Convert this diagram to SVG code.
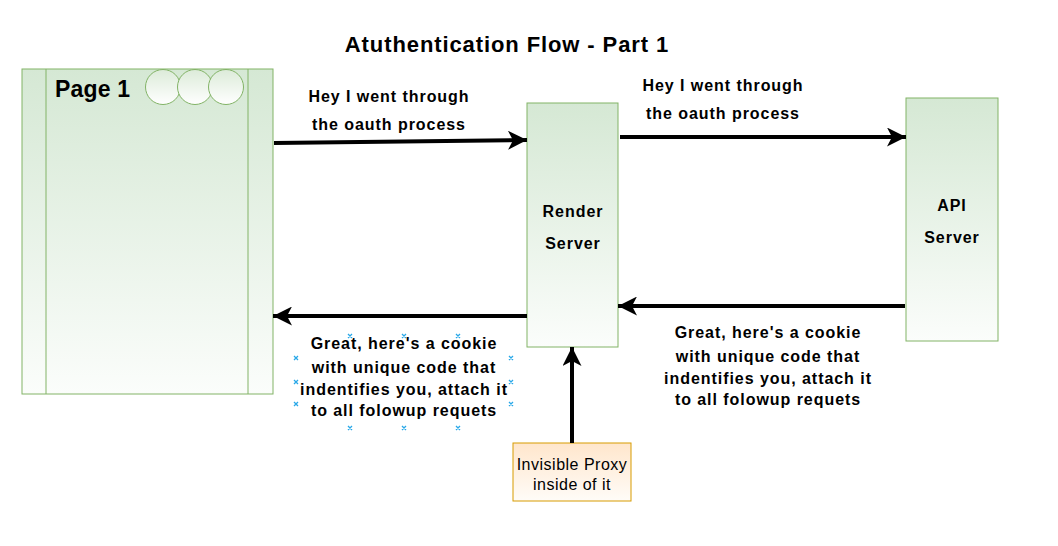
<svg xmlns="http://www.w3.org/2000/svg" width="1058" height="546" viewBox="0 0 1058 546">
<defs>
<linearGradient id="g" x1="0" y1="0" x2="0" y2="1"><stop offset="0" stop-color="#d5e8d4"/><stop offset="1" stop-color="#fbfdfb"/></linearGradient>
<linearGradient id="gc" x1="0" y1="0" x2="0" y2="1"><stop offset="0" stop-color="#dcebd9"/><stop offset="1" stop-color="#ffffff"/></linearGradient>
<linearGradient id="go" x1="0" y1="0" x2="0" y2="1"><stop offset="0" stop-color="#ffe6cc"/><stop offset="1" stop-color="#fffcf8"/></linearGradient>
<marker id="ah" viewBox="0 0 19 19" refX="19" refY="9.5" markerWidth="19" markerHeight="19" markerUnits="userSpaceOnUse" orient="auto">
<path d="M0,0 L19,9.5 L0,19 L5,9.5 Z" fill="#000"/>
</marker>
<style>
.box{fill:url(#g);stroke:#82b366;stroke-width:1}
.t{font-family:"Liberation Sans",Arial,sans-serif;font-weight:bold;font-size:16px;letter-spacing:0.95px;fill:#000;text-anchor:middle}
.c{fill:none;stroke:#000;stroke-width:4;marker-end:url(#ah)}
.x{stroke:#29a8e8;stroke-width:1.3}
</style>
</defs>
<rect width="1058" height="546" fill="#fff"/>
<text x="507" y="52" class="t" style="font-size:22px;letter-spacing:0.9px">Atuthentication Flow - Part 1</text>
<g id="page1">
<rect x="22" y="69" width="251" height="325" class="box"/>
<line x1="46" y1="69" x2="46" y2="394" stroke="#82b366"/>
<line x1="248" y1="69" x2="248" y2="394" stroke="#82b366"/>
<circle cx="163" cy="87" r="17.5" fill="url(#gc)" stroke="#82b366"/>
<circle cx="195" cy="87" r="17.5" fill="url(#gc)" stroke="#82b366"/>
<circle cx="226" cy="87" r="17.5" fill="url(#gc)" stroke="#82b366"/>
<text x="55" y="97" class="t" style="font-size:23px;letter-spacing:0.2px;text-anchor:start">Page 1</text>
</g>
<g id="render">
<rect x="527" y="103" width="91" height="244" class="box"/>
<text x="573" y="217" class="t">Render</text>
<text x="573" y="249" class="t">Server</text>
</g>
<g id="api">
<rect x="906" y="98" width="92" height="243" class="box"/>
<text x="952" y="211" class="t">API</text>
<text x="952" y="243" class="t">Server</text>
</g>
<g id="proxy">
<rect x="513" y="443" width="118" height="58" fill="url(#go)" stroke="#d79b00"/>
<text x="572" y="470" class="t" style="font-weight:normal;font-size:16px;letter-spacing:0.5px">Invisible Proxy</text>
<text x="572" y="490" class="t" style="font-weight:normal;font-size:16px;letter-spacing:0.5px">inside of it</text>
</g>
<g id="connectors">
<path d="M274,143 L527,140" class="c"/>
<path d="M620,137 L906,137" class="c"/>
<path d="M905,306 L618,306" class="c"/>
<path d="M527,316 L273,316" class="c"/>
<path d="M572,443 L572,347" class="c"/>
</g>
<g id="labels">
<text x="389" y="102" class="t">Hey I went through</text>
<text x="389" y="130" class="t">the oauth process</text>
<text x="723" y="91" class="t">Hey I went through</text>
<text x="723" y="119" class="t">the oauth process</text>
<text x="404" y="349" class="t">Great, here's a cookie</text>
<text x="404" y="373" class="t">with unique code that</text>
<text x="404" y="395" class="t">indentifies you, attach it</text>
<text x="404" y="416" class="t">to all folowup requets</text>
<text x="768" y="338" class="t">Great, here's a cookie</text>
<text x="768" y="362" class="t">with unique code that</text>
<text x="768" y="384" class="t">indentifies you, attach it</text>
<text x="768" y="405" class="t">to all folowup requets</text>
</g>
<g id="handles" class="x">
<path d="M348,334l4,4M352,334l-4,4M402,334l4,4M406,334l-4,4M456,334l4,4M460,334l-4,4"/>
<path d="M294,356l4,4M298,356l-4,4M509,356l4,4M513,356l-4,4"/>
<path d="M294,380l4,4M298,380l-4,4M509,380l4,4M513,380l-4,4"/>
<path d="M294,402l4,4M298,402l-4,4M509,402l4,4M513,402l-4,4"/>
<path d="M348,426l4,4M352,426l-4,4M402,426l4,4M406,426l-4,4M456,426l4,4M460,426l-4,4"/>
</g>
</svg>
